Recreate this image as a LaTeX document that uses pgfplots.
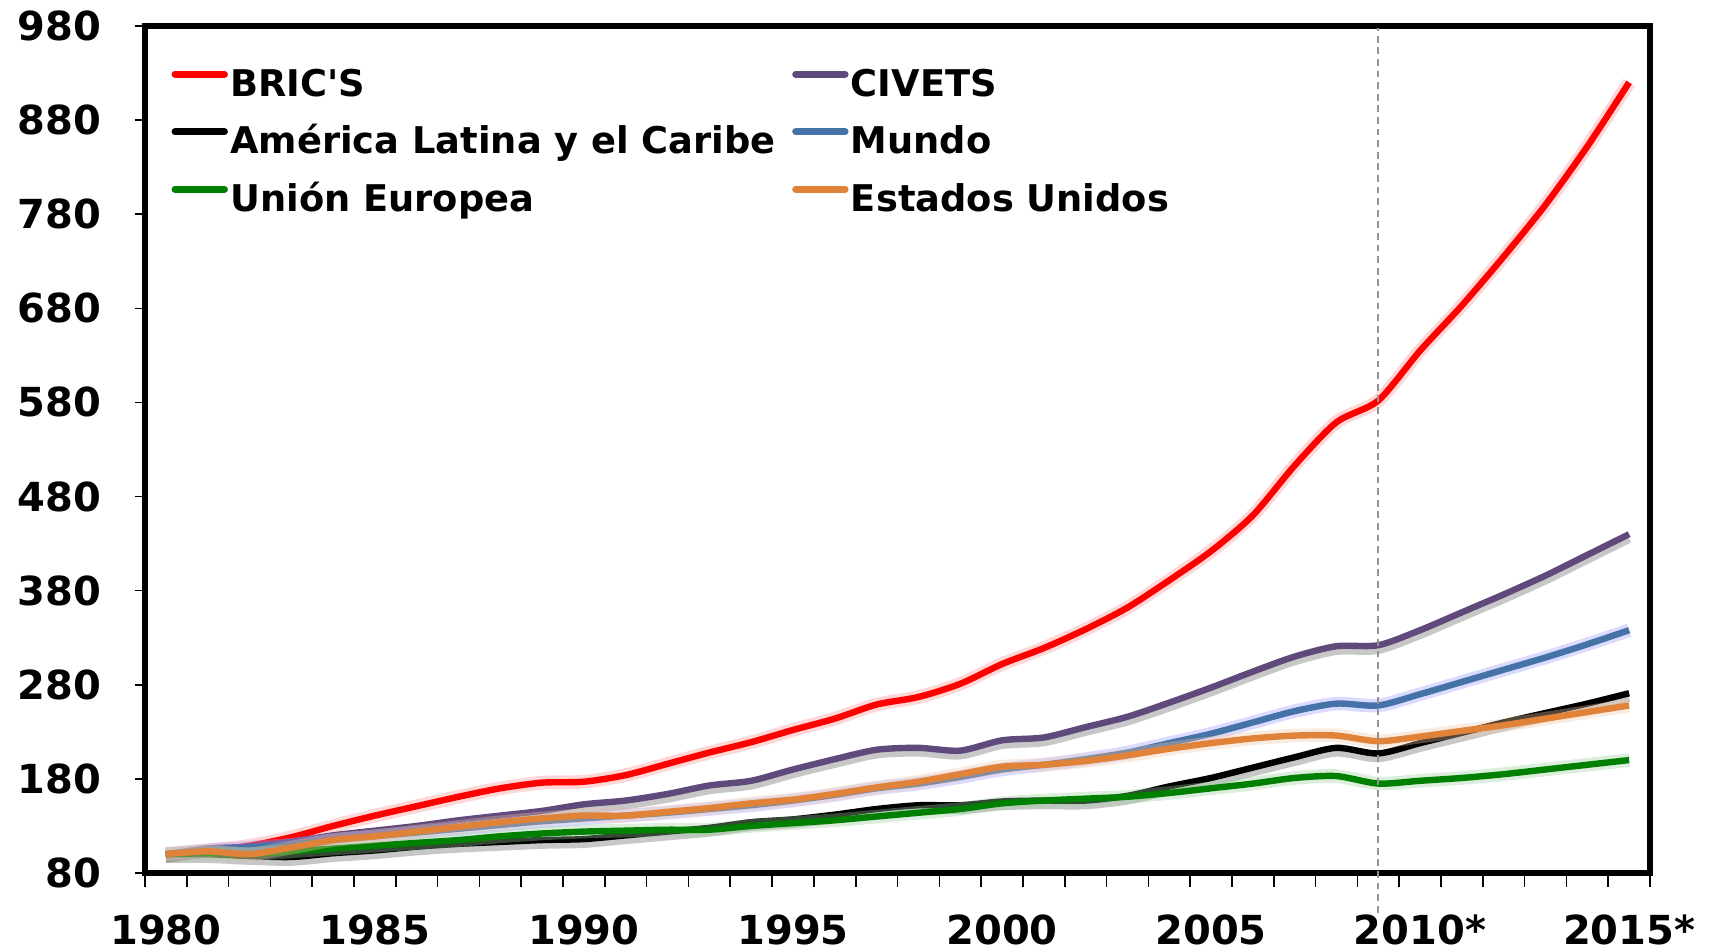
\documentclass[border=0pt]{standalone}
\usepackage{fontspec}
\setmainfont{DejaVu Sans}
\newfontfamily\plainfont{DejaVu Sans}
\usepackage{pgfplots}
\usepackage{pgfplotstable}
\pgfplotsset{compat=1.18}
\definecolor{cbric}{HTML}{FF0000}
\definecolor{cciv}{HTML}{604A7B}
\definecolor{cmun}{HTML}{4572A7}
\definecolor{cue}{HTML}{008000}
\definecolor{ceu}{HTML}{E08238}
\pgfplotstableread{
x brics civets al mundo ue eeuu
0 100 100 100 100 100 100
1 104 106 100 104 101 103
2 109 108 98 107 100 100
3 118 113 97 110 103 107
4 130 120 101 115 106 115
5 141 125 104 119 109 119
6 151 130 108 123 112 124
7 161 136 111 127 115 129
8 170 141 113 131 119 134
9 176 146 115 135 122 138
10 177 153 116 138 124 141
11 184 157 120 141 125 141
12 196 164 124 144 126 145
13 208 173 128 148 126 149
14 219 178 134 152 130 154
15 232 190 137 157 133 158
16 244 201 142 163 136 164
17 259 211 148 170 140 171
18 267 213 152 175 144 177
19 281 210 152 182 148 185
20 302 221 156 190 154 193
21 319 224 157 195 157 195
22 339 235 157 201 159 199
23 362 246 162 208 161 205
24 391 261 172 218 165 212
25 422 277 181 228 170 218
26 460 294 192 240 175 223
27 513 310 203 252 181 226
28 559 321 213 260 183 226
29 582 322 207 258 175 220
30 635 338 218 270 178 225
31 683 357 229 283 181 231
32 735 376 240 296 185 237
33 790 396 250 309 190 244
34 852 418 260 323 195 251
35 920 440 271 338 200 258
}\datatab
\begin{document}
\begin{tikzpicture}
\begin{axis}[
  scale only axis,
  width=376.25pt, height=211.75pt,
  xmin=-0.5, xmax=35.5,
  ymin=80, ymax=980,
  clip=false,
  axis line style={line width=1.6pt},
  tick align=outside,
  tick pos=left,
  xtick={0,5,...,35},
  xticklabels={1980,1985,1990,1995,2000,2005,2010*,2015*},
  minor xtick={-0.5,0.5,...,35.5},
  major x tick style={draw=none},
  minor tick length=3.5pt,
  major tick length=2.5pt,
  tick style={black, line width=0.4pt},
  ytick={80,180,...,980},
  /pgf/number format/assume math mode=true,
  /pgf/number format/1000 sep={},
  ticklabel style={font=\fontsize{10}{12}\selectfont\bfseries},
  xticklabel style={yshift=-4.5pt},
  yticklabel style={xshift=-4.9pt},
  legend columns=2,
  legend cell align=left,
  legend style={draw=none, fill=none, at={(rel axis cs:0.0171,0.954)}, anchor=north west,
    inner sep=0pt, row sep=4.2pt,
    font=\plainfont\fontsize{9.2}{11}\selectfont\bfseries,
    nodes={inner sep=0.6pt, text height=7pt, text depth=2pt},
    /tikz/every even column/.append style={column sep=3.5pt}},
  legend image code/.code={\draw[line width=1.7pt, line cap=round] (0.8pt,3pt) -- (13.2pt,3pt);},
  every axis plot/.append style={line width=1.6pt, smooth, tension=0.45},
  glow/.style={forget plot, line width=3.4pt, opacity=0.35},
  shadow/.style={forget plot, line width=2.2pt, black, opacity=0.22, transform canvas={yshift=-1.1pt}},
]
\addplot[glow, cbric!45] table[x=x,y=brics]{\datatab};
\addplot[cbric] table[x=x,y=brics]{\datatab};
\addlegendentry{BRIC'S}
\addplot[shadow] table[x=x,y=civets]{\datatab};
\addplot[cciv] table[x=x,y=civets]{\datatab};
\addlegendentry{CIVETS}
\addplot[shadow] table[x=x,y=al]{\datatab};
\addplot[black] table[x=x,y=al]{\datatab};
\addlegendentry{América Latina y el Caribe}
\addplot[glow, blue!40] table[x=x,y=mundo]{\datatab};
\addplot[cmun] table[x=x,y=mundo]{\datatab};
\addlegendentry{Mundo}
\addplot[glow, cue!40] table[x=x,y=ue]{\datatab};
\addplot[cue] table[x=x,y=ue]{\datatab};
\addlegendentry{Unión Europea}
\addplot[glow, ceu!45] table[x=x,y=eeuu]{\datatab};
\addplot[ceu] table[x=x,y=eeuu]{\datatab};
\addlegendentry{Estados Unidos}
\addplot[gray!85, line width=0.5pt, dash pattern=on 1.7pt off 1.2pt, sharp plot, forget plot] coordinates {(29,38) (29,978)};
\end{axis}
\pgfresetboundingbox
\path (-36.25pt,-19.25pt) rectangle (393.5pt,218.25pt);
\end{tikzpicture}
\end{document}
